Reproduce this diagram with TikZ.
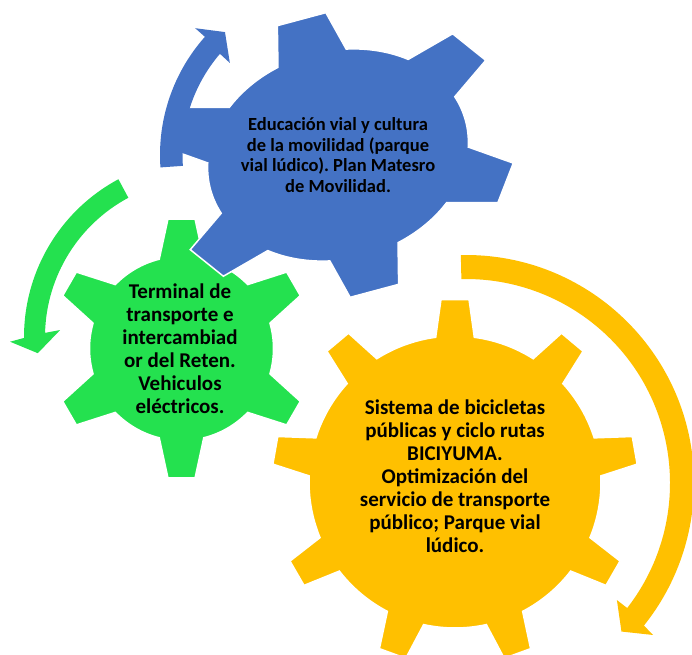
\documentclass[tikz,border=0pt]{standalone}
\usepackage{fontspec}
\setmainfont{Carlito}
\frenchspacing

\definecolor{gearblue}{HTML}{4472C4}
\definecolor{geargreen}{HTML}{24E14F}
\definecolor{gearyellow}{HTML}{FFC000}

\newcommand{\cogwheel}[6]{({#2-#5}:#3)
  \foreach \k in {1,...,#1}{
    -- ({#2+(\k-1)*360/#1-#6}:#4) -- ({#2+(\k-1)*360/#1+#6}:#4)
    -- ({#2+(\k-1)*360/#1+#5}:#3)
    arc[start angle={#2+(\k-1)*360/#1+#5}, delta angle={360/#1-2*#5}, radius=#3]
  } -- cycle}

\begin{document}
\begin{tikzpicture}[x=1pt, y=1pt,
    cog/.style={draw=white, line width=1.5pt},
    gear text/.style={font=\bfseries\fontsize{21}{23}\selectfont, align=center, inner sep=0pt}]
    \useasboundingbox (0,0) rectangle (692,654);
    \coordinate (gcen) at (181.5,305.5);
    \coordinate (bcen) at (338,499);
    \coordinate (ycen) at (455,172);
    \coordinate (garc) at (203,317);
    \coordinate (yarc) at (466,171);

    \fill[geargreen, cog, shift={(gcen)}] \cogwheel{6}{90}{92}{130}{14}{6};
    \fill[gearblue, cog, shift={(bcen)}, rotate=15, xscale=1.27] \cogwheel{6}{90}{104}{142}{15.5}{8};
    \fill[gearyellow, cog, shift={(ycen)}] \cogwheel{9}{90}{146}{183}{7.6}{4.4};

    \fill[geargreen, shift={(garc)}] (118.2:179) arc[start angle=118.2, end angle=180.3, radius=179]
        -- (181.4:193) -- (185.6:166) -- (177.2:143) -- (178.5:158)
        arc[start angle=178.5, end angle=118.2, radius=158] -- cycle;
    \fill[gearblue, shift={(bcen)}] (184:178) arc[start angle=184, end angle=138.4, radius=178]
        -- (138.4:191) -- (132.6:167) -- (139.6:142) -- (139.4:155.5)
        arc[start angle=139.4, end angle=184, radius=155.5] -- cycle;
    \fill[gearyellow, shift={(yarc)}] (91.3:228) arc[start angle=91.3, end angle=-38.7, radius=228]
        -- (-39.1:241) -- (-43.7:215) -- (-37.8:191) -- (-37.8:204)
        arc[start angle=-37.8, end angle=91.3, radius=204] -- cycle;

    \node[gear text] (terminal) at (180,305) {Terminal de\\transporte e\\intercambiad\\or del Reten.\\Vehiculos\\eléctricos.};
    \node[gear text, font=\bfseries\fontsize{18.5}{20.8}\selectfont] (educacion) at (bcen)
        {Educación vial y cultura\\de la movilidad (parque\\vial lúdico). Plan Matesro\\de Movilidad.};
    \node[gear text] (bicis) at (455,178) {Sistema de bicicletas\\públicas y ciclo rutas\\BICIYUMA.\\Optimización del\\servicio de transporte\\público; Parque vial\\lúdico.};
\end{tikzpicture}
\end{document}
